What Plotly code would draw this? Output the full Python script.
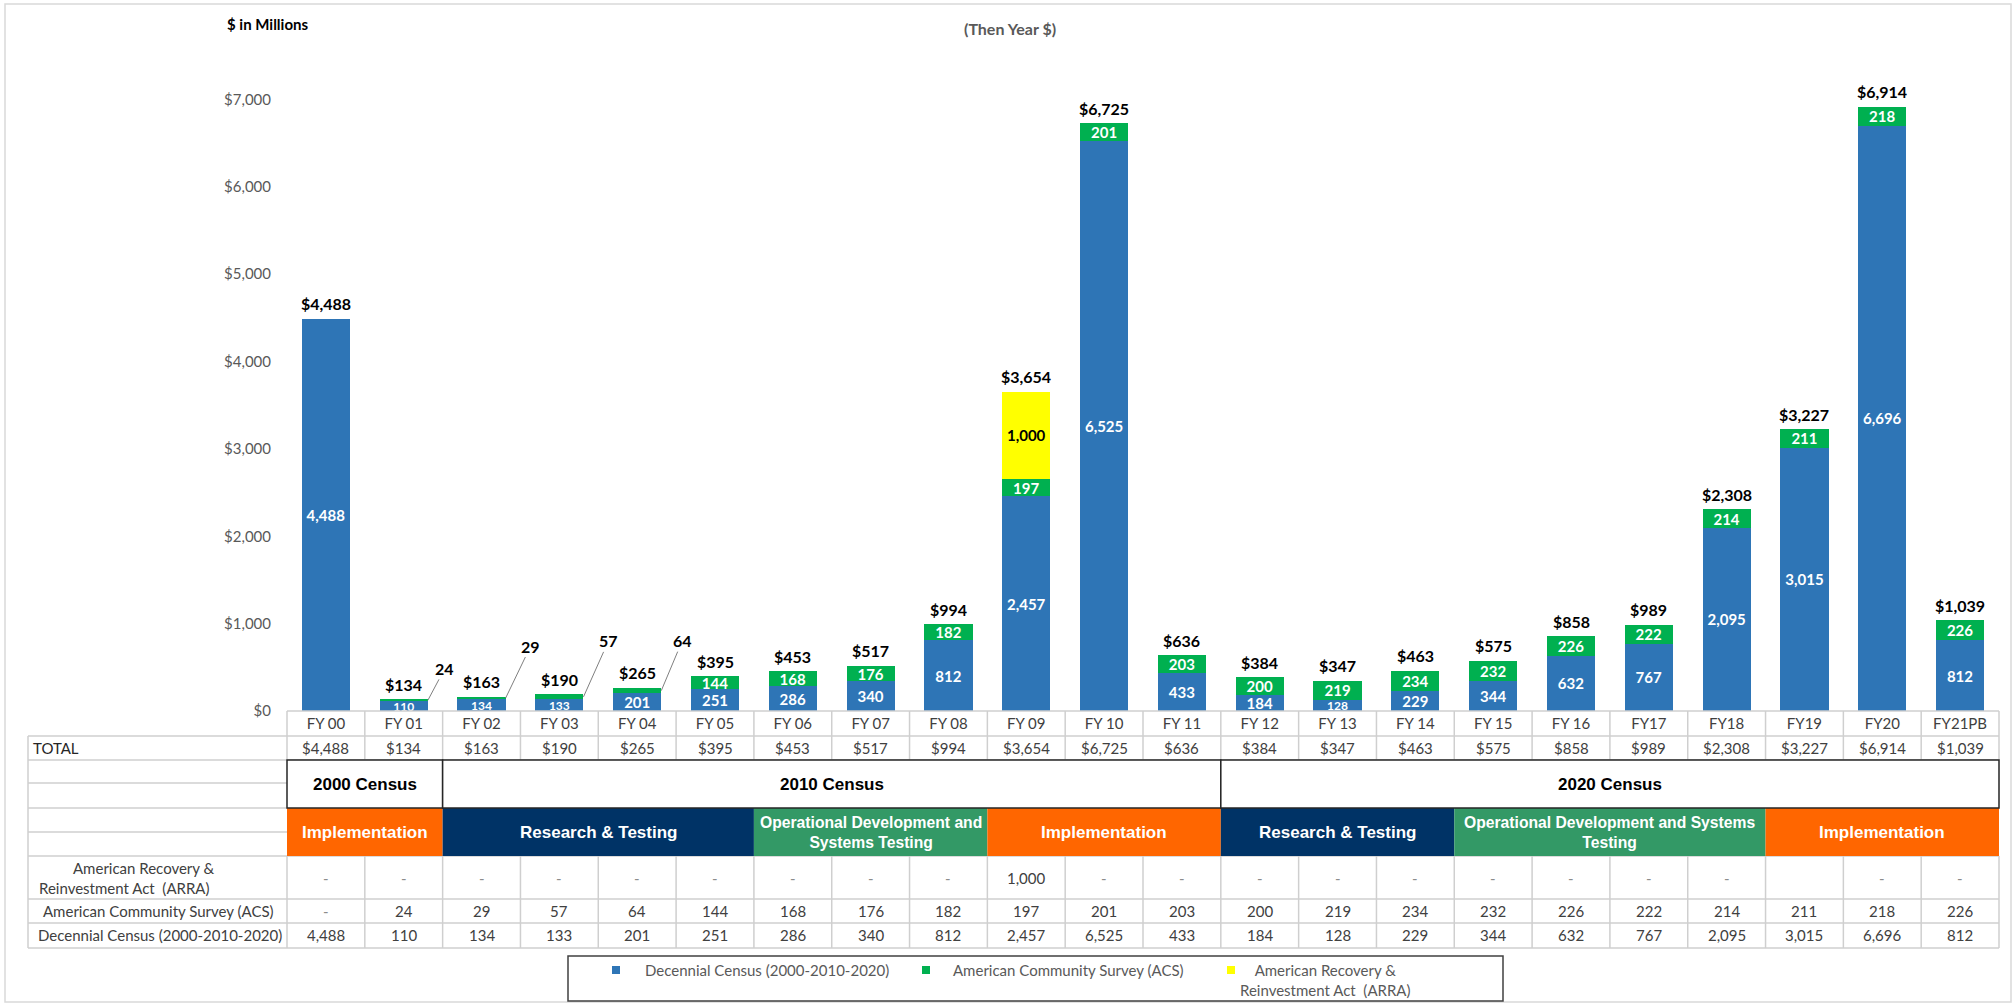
import plotly.graph_objects as go

# ---------------- data ----------------
categories = ["FY 00", "FY 01", "FY 02", "FY 03", "FY 04", "FY 05", "FY 06", "FY 07",
              "FY 08", "FY 09", "FY 10", "FY 11", "FY 12", "FY 13", "FY 14", "FY 15",
              "FY 16", "FY17", "FY18", "FY19", "FY20", "FY21PB"]
decennial = [4488, 110, 134, 133, 201, 251, 286, 340, 812, 2457, 6525, 433,
             184, 128, 229, 344, 632, 767, 2095, 3015, 6696, 812]
acs = [0, 24, 29, 57, 64, 144, 168, 176, 182, 197, 201, 203,
       200, 219, 234, 232, 226, 222, 214, 211, 218, 226]
arra = [0, 0, 0, 0, 0, 0, 0, 0, 0, 1000, 0, 0,
        0, 0, 0, 0, 0, 0, 0, None, 0, 0]
totals = [4488, 134, 163, 190, 265, 395, 453, 517, 994, 3654, 6725, 636,
          384, 347, 463, 575, 858, 989, 2308, 3227, 6914, 1039]
y_ticks = [0, 1000, 2000, 3000, 4000, 5000, 6000, 7000]

census_names = ["2000 Census", "2010 Census", "2020 Census"]
census_spans = [2, 10, 10]
phase_names = ["Implementation", "Research & Testing",
               "Operational Development and<br>Systems Testing", "Implementation",
               "Research & Testing", "Operational Development and Systems<br>Testing",
               "Implementation"]
phase_spans = [2, 4, 3, 3, 3, 4, 3]
phase_kind = ["impl", "rt", "od", "impl", "rt", "od", "impl"]

# leader-line label offsets (pixels) for small ACS segments
leader_offsets = {1: (17, -32), 2: (25, -52), 3: (25, -56), 4: (21, -50)}

# ---------------- style ----------------
C_DEC = "#2E75B6"
C_ACS = "#00B050"
C_ARRA = "#FFFF00"
PHASE_COL = {"impl": "#FF6600", "rt": "#003366", "od": "#339966"}
PHASE_SIZE = {"impl": 17, "rt": 17, "od": 15.7}
FONT = "Lato, 'Open Sans', sans-serif"
ARIAL = "'Liberation Sans', Arial, sans-serif"
GRID = "#cfcfcf"
TXT = "#404040"

W, H = 2013, 1003
L, R, T, B = 287, 14, 12, 292
PW, PH = W - L - R, H - T - B
N = len(categories)


def px(p):
    return (p - L) / PW


def py(p):
    return (H - B - p) / PH


def colx(i):
    return i / N


fig = go.Figure()

dec_size = [12 if v < 150 else 15 for v in decennial]
fig.add_trace(go.Bar(
    x=categories, y=decennial, name="Decennial Census (2000-2010-2020)",
    marker=dict(color=C_DEC, line=dict(width=0)),
    text=[f"{v:,}" for v in decennial], textposition="inside",
    insidetextanchor="middle", constraintext="none",
    textfont=dict(color="white", size=dec_size, family=FONT, weight="bold"),
    hoverinfo="skip"))
fig.add_trace(go.Bar(
    x=categories, y=acs, name="American Community Survey (ACS)",
    marker=dict(color=C_ACS, line=dict(width=0)),
    text=[f"{v:,}" if v >= 100 else "" for v in acs], textposition="inside",
    insidetextanchor="middle", constraintext="none",
    textfont=dict(color="white", size=15, family=FONT, weight="bold"),
    hoverinfo="skip"))
fig.add_trace(go.Bar(
    x=categories, y=[v or 0 for v in arra], name="American Recovery & Reinvestment Act  (ARRA)",
    marker=dict(color=C_ARRA, line=dict(width=0)),
    text=[f"{v:,}" if v else "" for v in arra], textposition="inside",
    insidetextanchor="middle", constraintext="none",
    textfont=dict(color="black", size=15, family=FONT, weight="bold"),
    hoverinfo="skip"))

ann = []
shapes = []

# totals above bars
for i, t in enumerate(totals):
    ann.append(dict(x=categories[i], y=t, xref="x", yref="y", text=f"${t:,}",
                    showarrow=False, yanchor="middle", yshift=15,
                    font=dict(family=FONT, size=16, color="black", weight="bold")))

# small ACS values with leader lines
for i, (ax, ay) in leader_offsets.items():
    ann.append(dict(x=i + 0.31, y=decennial[i] + acs[i] / 2, xref="x", yref="y",
                    text=f"{acs[i]:,}", showarrow=True, arrowhead=0, arrowwidth=1,
                    arrowcolor="#7f7f7f", standoff=0, ax=ax, ay=ay,
                    font=dict(family=FONT, size=16, color="black", weight="bold")))

# ---- titles ----
ann.append(dict(x=px(225), y=py(24), xref="paper", yref="paper", text="$ in Millions",
                showarrow=False, xanchor="left", yanchor="middle",
                font=dict(family=FONT, size=15, color="black", weight="bold")))
ann.append(dict(x=px(1010), y=py(28), xref="paper", yref="paper", text="(Then Year $)",
                showarrow=False, xanchor="center", yanchor="middle",
                font=dict(family=FONT, size=16, color="#595959", weight="bold")))

# ---- outer frame ----
shapes.append(dict(type="rect", xref="paper", yref="paper", x0=px(5), x1=px(2011),
                   y0=py(4), y1=py(1002), line=dict(color="#d9d9d9", width=1.5),
                   layer="below"))

# ---- table geometry (pixels) ----
Y_CAT0, Y_TOT0, Y_CEN0, Y_CENm, Y_PH0, Y_PHm, Y_ARRA0, Y_ACS0, Y_DEC0, Y_END = \
    711, 736, 760, 783, 808, 832, 856, 899, 923, 948
X_LAB0 = 28


def hline(x0p, x1p, yp, color=GRID, width=1.5):
    shapes.append(dict(type="line", xref="paper", yref="paper", x0=x0p, x1=x1p,
                       y0=py(yp), y1=py(yp), line=dict(color=color, width=width)))


def vline(xp, y0p, y1p, color=GRID, width=1.5):
    shapes.append(dict(type="line", xref="paper", yref="paper", x0=xp, x1=xp,
                       y0=py(y0p), y1=py(y1p), line=dict(color=color, width=width)))


# horizontal grid lines
hline(0, 1, Y_CAT0)
for yy in [Y_TOT0, Y_CEN0, Y_ARRA0, Y_ACS0, Y_DEC0, Y_END]:
    hline(px(X_LAB0), 1, yy)
for yy in [Y_CENm, Y_PH0, Y_PHm]:
    hline(px(X_LAB0), 0, yy)
# vertical grid lines
vline(px(X_LAB0), Y_TOT0, Y_END)
for i in range(N + 1):
    vline(colx(i), Y_CAT0, Y_CEN0)
    vline(colx(i), Y_ARRA0, Y_END)

# phase blocks
start = 0
for name, span, kind in zip(phase_names, phase_spans, phase_kind):
    shapes.append(dict(type="rect", xref="paper", yref="paper", x0=colx(start),
                       x1=colx(start + span), y0=py(Y_ARRA0), y1=py(Y_PH0),
                       fillcolor=PHASE_COL[kind], line=dict(width=0)))
    ann.append(dict(x=(colx(start) + colx(start + span)) / 2, y=py((Y_PH0 + Y_ARRA0) / 2),
                    xref="paper", yref="paper", text=name, showarrow=False,
                    xanchor="center", yanchor="middle",
                    font=dict(family=ARIAL, size=PHASE_SIZE[kind], color="white",
                              weight="bold")))
    start += span

# census blocks
start = 0
for name, span in zip(census_names, census_spans):
    shapes.append(dict(type="rect", xref="paper", yref="paper", x0=colx(start),
                       x1=colx(start + span), y0=py(Y_PH0), y1=py(Y_CEN0),
                       fillcolor="white", line=dict(color="#262626", width=1.5)))
    ann.append(dict(x=(colx(start) + colx(start + span)) / 2, y=py((Y_CEN0 + Y_PH0) / 2),
                    xref="paper", yref="paper", text=name, showarrow=False,
                    xanchor="center", yanchor="middle",
                    font=dict(family=ARIAL, size=17, color="black", weight="bold")))
    start += span


def cell(i, yc, text, color=TXT, size=15):
    ann.append(dict(x=(colx(i) + colx(i + 1)) / 2, y=py(yc), xref="paper", yref="paper",
                    text=text, showarrow=False, xanchor="center", yanchor="middle",
                    font=dict(family=FONT, size=size, color=color)))


for i in range(N):
    cell(i, (Y_TOT0 + Y_CEN0) / 2, f"${totals[i]:,}")
    a = arra[i]
    if a is None:
        pass
    elif a == 0:
        cell(i, (Y_ARRA0 + Y_ACS0) / 2, "-", color="#8c8c8c")
    else:
        cell(i, (Y_ARRA0 + Y_ACS0) / 2, f"{a:,}")
    cell(i, (Y_ACS0 + Y_DEC0) / 2, f"{acs[i]:,}" if acs[i] else "-",
         color=TXT if acs[i] else "#8c8c8c")
    cell(i, (Y_DEC0 + Y_END) / 2, f"{decennial[i]:,}")

# row labels
ann.append(dict(x=px(31), y=py((Y_TOT0 + Y_CEN0) / 2), xref="paper", yref="paper",
                text="TOTAL", showarrow=False, xanchor="left", yanchor="middle",
                font=dict(family=FONT, size=15, color="#262626")))
ann.append(dict(x=px(144), y=py(868), xref="paper", yref="paper",
                text="American Recovery &", showarrow=False, xanchor="center",
                yanchor="middle", font=dict(family=FONT, size=15, color=TXT)))
ann.append(dict(x=px(124), y=py(888), xref="paper", yref="paper",
                text="Reinvestment Act  (ARRA)", showarrow=False, xanchor="center",
                yanchor="middle", font=dict(family=FONT, size=15, color=TXT)))
ann.append(dict(x=px(158), y=py((Y_ACS0 + Y_DEC0) / 2), xref="paper", yref="paper",
                text="American Community Survey (ACS)", showarrow=False, xanchor="center",
                yanchor="middle", font=dict(family=FONT, size=15, color=TXT)))
ann.append(dict(x=px(160), y=py((Y_DEC0 + Y_END) / 2), xref="paper", yref="paper",
                text="Decennial Census (2000-2010-2020)", showarrow=False, xanchor="center",
                yanchor="middle", font=dict(family=FONT, size=15, color=TXT)))

# ---- legend (drawn manually) ----
shapes.append(dict(type="rect", xref="paper", yref="paper", x0=px(568), x1=px(1503),
                   y0=py(956), y1=py(1001), line=dict(color="#404040", width=1.5)))
legend_items = [(C_DEC, 616, 643, "Decennial Census (2000-2010-2020)", "left"),
                (C_ACS, 926, 951, "American Community Survey (ACS)", "left"),
                (C_ARRA, 1231, 1325, "American Recovery &<br>Reinvestment Act  (ARRA)", "center")]
for col, sx, tx, label, anchor in legend_items:
    shapes.append(dict(type="rect", xref="paper", yref="paper", x0=px(sx - 4), x1=px(sx + 4),
                       y0=py(966), y1=py(974), fillcolor=col, line=dict(width=0)))
    ann.append(dict(x=px(tx), y=py(970) if anchor == "left" else py(979.5), xref="paper",
                    yref="paper", text=label, showarrow=False, xanchor=anchor,
                    yanchor="middle", align="center",
                    font=dict(family=FONT, size=15, color="#595959")))

fig.update_layout(
    width=W, height=H, margin=dict(l=L, r=R, t=T, b=B),
    barmode="stack", bargap=0.38, showlegend=False,
    plot_bgcolor="white", paper_bgcolor="white",
    xaxis=dict(type="category", range=[-0.5, N - 0.5], showgrid=False, zeroline=False,
               showline=False, ticks="", tickfont=dict(family=FONT, size=15, color=TXT),
               ticklabelstandoff=2),
    yaxis=dict(range=[0, 8000], tickvals=y_ticks, ticktext=[f"${v:,}" for v in y_ticks],
               showgrid=False, zeroline=False, showline=False, ticks="",
               tickfont=dict(family=FONT, size=15, color="#595959"), ticklabelstandoff=15),
    annotations=ann, shapes=shapes,
)

fig.write_html("out.html", config={"displayModeBar": False},
               post_script="document.body.style.margin='0';")
